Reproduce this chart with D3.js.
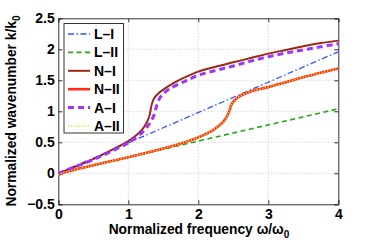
<!DOCTYPE html>
<html><head><meta charset="utf-8">
<script src="https://cdn.jsdelivr.net/npm/d3@7"></script>
<style>
body{margin:0;background:#fff;}
text{font-family:"Liberation Sans",Arial,sans-serif;font-weight:bold;}
</style></head>
<body><svg id="c" width="374" height="245"></svg>
<script>
const xTicks=[0,1,2,3,4];
const yTicks=[-0.5,0,0.5,1,1.5,2,2.5];
const yTickLabels=["\u22120.5","0","0.5","1","1.5","2","2.5"];
const seriesNames=["L\u2013I","L\u2013II","N\u2013I","N\u2013II","A\u2013I","A\u2013II"];
const omegaLI=[0,4];
const kLI=[0,1.96];
const omegaLII=[0,4];
const kLII=[0,1.04];
const omegaNI=[0,0.25,0.5,0.75,1.0,1.1,1.2,1.26,1.3,1.32,1.34,1.37,1.42,1.5,1.65,1.83,2.0,2.25,2.5,2.75,3.0,3.25,3.5,3.75,4.0];
const kNI=[0,0.11,0.23,0.37,0.52,0.6,0.71,0.81,0.92,1.03,1.13,1.21,1.28,1.35,1.46,1.56,1.64,1.72,1.79,1.86,1.93,1.99,2.05,2.10,2.14];
const omegaAI=[0,0.25,0.5,0.75,1.0,1.1,1.2,1.27,1.33,1.37,1.4,1.43,1.48,1.6,1.8,2.0,2.25,2.5,2.75,3.0,3.25,3.5,3.75,4.0];
const kAI=[0,0.11,0.22,0.35,0.49,0.57,0.66,0.75,0.85,0.95,1.07,1.17,1.26,1.37,1.48,1.58,1.66,1.73,1.81,1.88,1.94,1.99,2.04,2.09];
const omegaNII=[0,0.05,0.5,1.0,1.5,1.75,2.0,2.2,2.3,2.37,2.42,2.45,2.48,2.53,2.6,2.75,3.0,3.25,3.5,3.75,4.0];
const kNII=[-0.03,0,0.13,0.26,0.40,0.48,0.58,0.69,0.77,0.85,0.94,1.03,1.12,1.19,1.25,1.32,1.39,1.47,1.55,1.62,1.69];
const omegaAII=omegaNII;
const kAII=kNII;

const svg=d3.select("#c");
const L=58.3,R=338.3,T=18.3,B=204.3;
const x=d3.scaleLinear().domain([0,4]).range([L,R]);
const y=d3.scaleLinear().domain([-0.5,2.5]).range([B,T]);

// grid
const g=svg.append("g");
xTicks.slice(1,-1).forEach(t=>g.append("line").attr("x1",x(t)).attr("x2",x(t)).attr("y1",T).attr("y2",B)
  .attr("stroke","#bbb").attr("stroke-width",0.8).attr("stroke-dasharray","1,2"));
yTicks.slice(1,-1).forEach(t=>g.append("line").attr("x1",L).attr("x2",R).attr("y1",y(t)).attr("y2",y(t))
  .attr("stroke","#bbb").attr("stroke-width",0.8).attr("stroke-dasharray","1,2"));

// axes
const ax=d3.axisBottom(x).tickValues(xTicks).tickSize(-4).tickPadding(4.5).tickFormat(d3.format("d"));
const gx=svg.append("g").attr("transform",`translate(0,${B})`).call(ax);
const ay=d3.axisLeft(y).tickValues(yTicks).tickSize(-4).tickPadding(3.5).tickFormat((d,i)=>yTickLabels[i]);
const gy=svg.append("g").attr("transform",`translate(${L},0)`).call(ay);
const axTop=d3.axisTop(x).tickValues(xTicks).tickSize(-4).tickFormat("");
const gxt=svg.append("g").attr("transform",`translate(0,${T})`).call(axTop);
const ayR=d3.axisRight(y).tickValues(yTicks).tickSize(-4).tickFormat("");
const gyr=svg.append("g").attr("transform",`translate(${R},0)`).call(ayR);
[gx,gy,gxt,gyr].forEach(a=>{a.select(".domain").attr("stroke","#333").attr("stroke-width",1);
  a.selectAll(".tick line").attr("stroke","#333");
  a.selectAll("text").attr("font-size",14).attr("fill","#000").attr("font-family","Liberation Sans, Arial, sans-serif").attr("font-weight","bold");});

// series
const series=[
 {om:omegaLI,k:kLI,color:"#3355ff",w:1.3,dash:"6,2.5,1.5,2.5"},
 {om:omegaLII,k:kLII,color:"#22aa11",w:1.6,dash:"5,3.5"},
 {om:omegaNI,k:kNI,color:"#992a12",w:2,dash:null},
 {om:omegaNII,k:kNII,color:"#ff2a1a",w:2.6,dash:null},
 {om:omegaAI,k:kAI,color:"#a033ff",w:3,dash:"6,4"},
 {om:omegaAII,k:kAII,color:"#e2e22a",w:1.6,dash:"1.2,1.6"}
];
const line=d3.line().x(d=>x(d[0])).y(d=>y(d[1])).curve(d3.curveCatmullRom.alpha(0.5));
series.forEach(s=>{
  svg.append("path").datum(s.om.map((o,i)=>[o,s.k[i]])).attr("d",line)
   .attr("fill","none").attr("stroke",s.color).attr("stroke-width",s.w)
   .attr("stroke-dasharray",s.dash);
});

// legend
const lg=svg.append("g");
lg.append("rect").attr("x",64).attr("y",23.5).attr("width",59.5).attr("height",109.5)
  .attr("fill","#fff").attr("stroke","#333").attr("stroke-width",1);
series.forEach((s,i)=>{
  const yy=34+i*18.4;
  lg.append("line").attr("x1",68).attr("x2",90).attr("y1",yy).attr("y2",yy)
    .attr("stroke",s.color).attr("stroke-width",s.w).attr("stroke-dasharray",s.dash);
  lg.append("text").attr("x",94).attr("y",yy+5).attr("font-size",14).text(seriesNames[i]);
});

// axis labels
svg.append("text").attr("x",199).attr("y",234).attr("text-anchor","middle").attr("font-size",13.8)
  .html('Normalized frequency \u03c9/\u03c9<tspan dy="4" font-size="10">0</tspan>');
svg.append("text").attr("transform","translate(16,111) rotate(-90)").attr("text-anchor","middle").attr("font-size",13.8)
  .html('Normalized wavenumber k/k<tspan dy="4" font-size="10">0</tspan>');
</script></body></html>
